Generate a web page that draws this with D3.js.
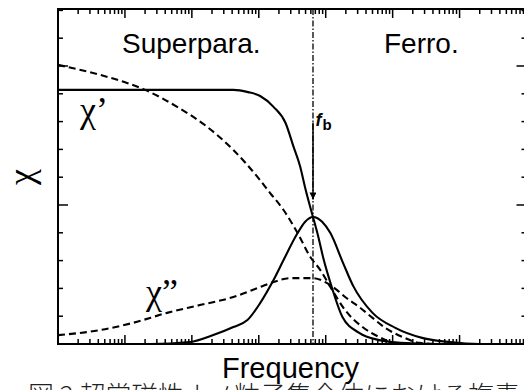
<!DOCTYPE html>
<html>
<head>
<meta charset="utf-8">
<script src="https://cdn.jsdelivr.net/npm/d3@7"></script>
<style>
  html, body { margin: 0; padding: 0; background: #fff; }
  svg { display: block; }
  .lbl { font-family: "Liberation Sans", Arial, sans-serif; fill: #000; }
  .greek { font-family: "Liberation Serif", "Times New Roman", serif; fill: #000; }
</style>
</head>
<body>
<svg id="chart" width="524" height="390"></svg>
<script>
// Frequency is stored as log10(f); susceptibility values are normalised.
// χ' (solid) – superparamagnetic ensemble
const chiReSolidLogF = [0, 1.4, 2.62, 2.84, 3.02, 3.22, 3.40, 3.52, 3.62, 3.69, 3.74, 3.81, 3.89, 3.96, 4.09, 4.25, 4.50, 4.80, 5.12, 5.6, 7];
const chiReSolid     = [0.914, 0.914, 0.914, 0.906, 0.892, 0.853, 0.795, 0.709, 0.637, 0.565, 0.518, 0.457, 0.385, 0.313, 0.205, 0.097, 0.040, 0.014, 0.004, 0, 0];
// χ'' (solid)
const chiImSolidLogF = [0, 1.38, 1.97, 2.32, 2.62, 2.83, 3.02, 3.22, 3.37, 3.58, 3.69, 3.81, 3.95, 4.07, 4.26, 4.41, 4.70, 5.04, 5.44, 5.85, 6.30, 7];
const chiImSolid     = [0, 0, 0.007, 0.032, 0.061, 0.086, 0.147, 0.230, 0.302, 0.399, 0.439, 0.457, 0.439, 0.399, 0.291, 0.209, 0.112, 0.058, 0.022, 0.007, 0, 0];
// χ' (dashed)
const chiReDashLogF = [0, 0.63, 1.03, 1.30, 1.78, 2.23, 2.62, 2.98, 3.17, 3.37, 3.58, 3.77, 3.92, 4.07, 4.29, 4.55, 4.80, 5.04, 5.5, 7];
const chiReDash     = [1.004, 0.968, 0.939, 0.914, 0.853, 0.781, 0.698, 0.601, 0.543, 0.482, 0.399, 0.313, 0.266, 0.205, 0.122, 0.061, 0.025, 0.004, 0, 0];
// χ'' (dashed)
const chiImDashLogF = [0, 0.63, 1.12, 1.63, 2.12, 2.62, 3.02, 3.22, 3.47, 3.81, 4.02, 4.17, 4.29, 4.50, 4.70, 4.89, 5.15, 5.40, 5.71, 7];
const chiImDash     = [0.032, 0.050, 0.076, 0.112, 0.140, 0.169, 0.205, 0.223, 0.237, 0.237, 0.219, 0.194, 0.169, 0.133, 0.094, 0.058, 0.025, 0.004, 0, 0];

// blocking frequency, log10
const fbLogF = 3.81;

// axis ticks
const xDecadeExps = [0, 1, 2, 3, 4, 5, 6, 7];
const yMinorTicks = [0.1, 0.2, 0.3, 0.4, 0.6, 0.7, 0.8, 0.9, 1.1, 1.2];
const yMajorTicks = [0.5, 1.0];

const regionLabels = ["Superpara.", "Ferro."];
const xTitle = "Frequency";
const yTitle = "χ";
const caption = "図 2 超常磁性ナノ粒子集合体における複素";

const svg = d3.select("#chart");
const mLeft = 58, mRight = 526.5, mTop = 9, mBottom = 344;

const x = d3.scaleLog().domain([1, 1e7]).range([mLeft, mRight]);
const y = d3.scaleLinear().domain([0, 1.205]).range([mBottom, mTop]);

const xMajor = xDecadeExps.map(e => Math.pow(10, e));
const xMinor = [];
xDecadeExps.slice(0, -1).forEach(e => {
  for (let m = 2; m <= 9; m++) xMinor.push(m * Math.pow(10, e));
});

const defs = svg.append("defs");
defs.append("clipPath").attr("id", "plot")
  .append("rect").attr("x", mLeft).attr("y", mTop)
  .attr("width", mRight - mLeft).attr("height", mBottom - mTop);
defs.append("marker")
  .attr("id", "arrow").attr("viewBox", "0 0 10 10")
  .attr("refX", 10).attr("refY", 5)
  .attr("markerWidth", 12).attr("markerHeight", 7)
  .attr("markerUnits", "userSpaceOnUse")
  .attr("orient", "auto")
  .append("path").attr("d", "M0,0 L10,5 L0,10 Z").attr("fill", "#000");

// frame
svg.append("rect")
  .attr("x", mLeft).attr("y", mTop).attr("width", mRight - mLeft).attr("height", mBottom - mTop)
  .attr("fill", "none").attr("stroke", "#000").attr("stroke-width", 2);

// inward tick marks on all four sides
const ticks = svg.append("g").attr("stroke", "#000").attr("stroke-width", 1.5);
function xTicks(vals, len) {
  ticks.selectAll(null).data(vals).join("line")
    .attr("x1", d => x(d)).attr("x2", d => x(d))
    .attr("y1", mBottom).attr("y2", mBottom - len);
  ticks.selectAll(null).data(vals).join("line")
    .attr("x1", d => x(d)).attr("x2", d => x(d))
    .attr("y1", mTop).attr("y2", mTop + len);
}
function yTicks(vals, len) {
  ticks.selectAll(null).data(vals).join("line")
    .attr("y1", d => y(d)).attr("y2", d => y(d))
    .attr("x1", mLeft).attr("x2", mLeft + len);
  ticks.selectAll(null).data(vals).join("line")
    .attr("y1", d => y(d)).attr("y2", d => y(d))
    .attr("x1", mRight).attr("x2", mRight - len);
}
xTicks(xMinor, 5);
xTicks(xMajor, 9);
yTicks(yMinorTicks, 5);
yTicks(yMajorTicks, 10);

const line = d3.line()
  .x(d => x(Math.pow(10, d[0])))
  .y(d => y(d[1]))
  .curve(d3.curveMonotoneX);

const series = [
  { lf: chiReSolidLogF, v: chiReSolid, dash: null },
  { lf: chiImSolidLogF, v: chiImSolid, dash: null },
  { lf: chiReDashLogF, v: chiReDash, dash: "7,4" },
  { lf: chiImDashLogF, v: chiImDash, dash: "7,4" }
];
const curves = svg.append("g").attr("clip-path", "url(#plot)");
series.forEach(s => {
  curves.append("path")
    .datum(d3.zip(s.lf, s.v))
    .attr("d", line)
    .attr("fill", "none")
    .attr("stroke", "#000")
    .attr("stroke-width", 2.1)
    .attr("stroke-dasharray", s.dash);
});

// blocking frequency marker
const xb = x(Math.pow(10, fbLogF));
svg.append("line")
  .attr("x1", xb).attr("x2", xb).attr("y1", mTop).attr("y2", mBottom)
  .attr("stroke", "#000").attr("stroke-width", 1.3)
  .attr("stroke-dasharray", "6,2,1.5,2");

svg.append("line")
  .attr("x1", xb).attr("x2", xb).attr("y1", y(0.797)).attr("y2", y(0.52))
  .attr("stroke", "#000").attr("stroke-width", 1.5)
  .attr("marker-end", "url(#arrow)");

const fb = svg.append("text")
  .attr("x", xb + 2.5).attr("y", y(0.785))
  .attr("font-family", "Liberation Sans, Arial, sans-serif")
  .attr("font-weight", "bold").attr("font-style", "italic")
  .attr("font-size", 18);
fb.append("tspan").text("f");
fb.append("tspan").attr("font-size", 15).attr("font-style", "normal").attr("dy", 4).attr("dx", 1).text("b");

// region labels
svg.append("text").attr("class", "lbl").attr("x", 122).attr("y", 53).attr("font-size", 28).text(regionLabels[0]);
svg.append("text").attr("class", "lbl").attr("x", 384).attr("y", 53).attr("font-size", 28).text(regionLabels[1]);

// curve labels
svg.append("text").attr("class", "greek").attr("x", 80).attr("y", 122).attr("font-size", 36).text("χ’");
svg.append("text").attr("class", "greek").attr("x", 146).attr("y", 304).attr("font-size", 36).text("χ”");

// axis titles
svg.append("text").attr("class", "greek")
  .attr("transform", "translate(33,177) rotate(-90)")
  .attr("text-anchor", "middle").attr("font-size", 36).text(yTitle);
svg.append("text").attr("class", "lbl").attr("x", 222).attr("y", 378).attr("font-size", 29).text(xTitle);

// figure caption, partly below the visible area
svg.append("text")
  .attr("x", 28).attr("y", 405)
  .attr("font-family", "Noto Sans CJK JP, sans-serif")
  .attr("font-size", 26).attr("font-weight", 300)
  .attr("fill", "#222").text(caption);
</script>
</body>
</html>
